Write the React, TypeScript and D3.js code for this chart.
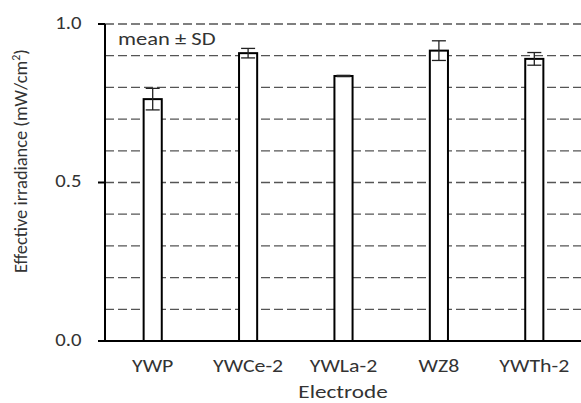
import React from 'react';
import * as d3 from 'd3';

const categories = ['YWP', 'YWCe-2', 'YWLa-2', 'WZ8', 'YWTh-2'];
const means = [0.763, 0.908, 0.836, 0.916, 0.89];
const sds = [0.034, 0.015, 0.002, 0.031, 0.02];
const yTicks = [0, 0.5, 1.0];
const gridValues = [0.1, 0.2, 0.3, 0.4, 0.5, 0.6, 0.7, 0.8, 0.9, 1.0];

const W = 581;
const H = 403;
const FONT = 'Carlito, Calibri, "Open Sans", sans-serif';
const TXT = '#333';

// horizontal text in the reference is a bit wider than plain Calibri
const Label = ({ x, y, anchor = 'start', size = 19, sx = 1.15, children }: any) => (
  <text transform={`translate(${x},${y}) scale(${sx},1)`} textAnchor={anchor} fontSize={size} fill={TXT}>
    {children}
  </text>
);

const App = () => {
  const x = d3.scaleBand().domain(categories).range([105, 582]).paddingInner(0.81).paddingOuter(0.405);
  const y = d3.scaleLinear().domain([0, 1]).range([341, 24]);
  const bw = x.bandwidth();

  return (
    <svg width={W} height={H} style={{ position: 'absolute', left: 0, top: 0, fontFamily: FONT }}>
      <rect width={W} height={H} fill="#fff" />
      {gridValues.map((v) => (
        <line key={v} x1={105} x2={W} y1={y(v)} y2={y(v)} stroke="#555" strokeWidth={1.3} strokeDasharray="9,4" />
      ))}
      {categories.map((c, i) => {
        const cx = x(c)! + bw / 2;
        return (
          <g key={c}>
            <rect x={x(c)} y={y(means[i])} width={bw} height={y(0) - y(means[i])} fill="#fff" stroke="#000" strokeWidth={2} />
            <line x1={cx} x2={cx} y1={y(means[i] + sds[i])} y2={y(means[i] - sds[i])} stroke="#222" strokeWidth={1.3} />
            <line x1={cx - 7} x2={cx + 7} y1={y(means[i] + sds[i])} y2={y(means[i] + sds[i])} stroke="#222" strokeWidth={1.3} />
            <line x1={cx - 7} x2={cx + 7} y1={y(means[i] - sds[i])} y2={y(means[i] - sds[i])} stroke="#222" strokeWidth={1.3} />
            <Label x={cx} y={y(0) + 31} anchor="middle">{c}</Label>
          </g>
        );
      })}
      <line x1={105} x2={105} y1={y(1)} y2={y(0)} stroke="#000" strokeWidth={2} />
      <line x1={98} x2={W} y1={y(0)} y2={y(0)} stroke="#000" strokeWidth={2} />
      {yTicks.map((t) => (
        <g key={t}>
          <line x1={98} x2={105} y1={y(t)} y2={y(t)} stroke="#000" strokeWidth={2} />
          <Label x={81.5} y={y(t) + 4.5} anchor="end" size={18} sx={1.15}>{t.toFixed(1)}</Label>
        </g>
      ))}
      <Label x={118} y={45} size={18.5} sx={1.22}>mean ± SD</Label>
      <Label x={343} y={398} anchor="middle" size={19} sx={1.22}>Electrode</Label>
      <text transform="translate(27,161) rotate(-90)" textAnchor="middle" fontSize={18.4} fill={TXT}>
        Effective irradiance (mW/cm<tspan dy={-7} fontSize={12}>2</tspan><tspan dy={7}>)</tspan>
      </text>
    </svg>
  );
};

export default App;
